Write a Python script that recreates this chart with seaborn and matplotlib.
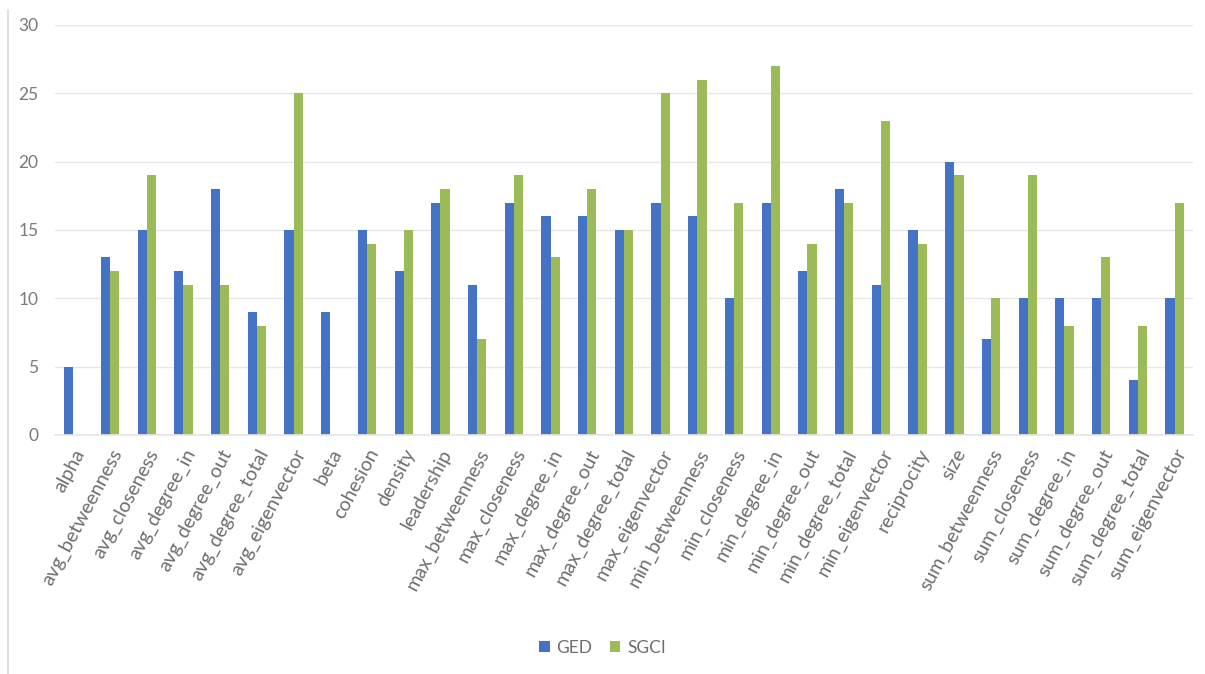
import matplotlib
matplotlib.use("Agg")
import matplotlib.pyplot as plt
import seaborn as sns
import pandas as pd
from matplotlib.lines import Line2D

categories = ["alpha", "avg_betweenness", "avg_closeness", "avg_degree_in", "avg_degree_out",
              "avg_degree_total", "avg_eigenvector", "beta", "cohesion", "density", "leadership",
              "max_betweenness", "max_closeness", "max_degree_in", "max_degree_out",
              "max_degree_total", "max_eigenvector", "min_betweenness", "min_closeness",
              "min_degree_in", "min_degree_out", "min_degree_total", "min_eigenvector",
              "reciprocity", "size", "sum_betweenness", "sum_closeness", "sum_degree_in",
              "sum_degree_out", "sum_degree_total", "sum_eigenvector"]
ged = [5, 13, 15, 12, 18, 9, 15, 9, 15, 12, 17, 11, 17, 16, 16, 15, 17, 16, 10, 17, 12, 18,
       11, 15, 20, 7, 10, 10, 10, 4, 10]
sgci = [0, 12, 19, 11, 11, 8, 25, 0, 14, 15, 18, 7, 19, 13, 18, 15, 25, 26, 17, 27, 14, 17,
        23, 14, 19, 10, 19, 8, 13, 8, 17]
series = ["GED", "SGCI"]
colors = ["#4472C4", "#9BBB59"]

df = pd.DataFrame({
    "category": categories * 2,
    "value": ged + sgci,
    "series": [series[0]] * len(categories) + [series[1]] * len(categories),
})

sns.set_theme(style="white")
plt.rcParams['font.family'] = ['Lato', 'DejaVu Sans']

fig = plt.figure(figsize=(12.05, 6.74), dpi=100)
ax = fig.add_axes([0.0456, 0.3546, 0.9444, 0.6084])

sns.barplot(data=df, x="category", y="value", hue="series", palette=colors,
            width=0.5, gap=0, ax=ax, legend=True, saturation=1, linewidth=0)

ax.set_ylim(0, 30)
ax.set_xlim(-0.5, len(categories) - 0.5)
ax.set_yticks(range(0, 31, 5))
ax.yaxis.grid(True, color="#E6E6E6", linewidth=1)
ax.set_axisbelow(True)
for s in ["top", "right", "left"]:
    ax.spines[s].set_visible(False)
ax.spines["bottom"].set_color("#E6E6E6")
ax.tick_params(axis="y", length=0, colors="#7A7A7A", labelsize=12.5, pad=12)
ax.tick_params(axis="x", length=0, colors="#6E6E6E", labelsize=14, pad=8)
ax.set_xlabel("")
ax.set_ylabel("")
plt.setp(ax.get_xticklabels(), rotation=62, ha="right", rotation_mode="anchor")

handles, labels = ax.get_legend_handles_labels()
ax.legend(handles, labels, loc="center", bbox_to_anchor=(0.5, 0.039),
          bbox_transform=fig.transFigure, ncol=2, frameon=False, fontsize=12.5,
          handlelength=0.6, handleheight=0.6, handletextpad=0.4, columnspacing=1.0,
          labelcolor="#6E6E6E")

fig.add_artist(Line2D([8 / 1205, 8 / 1205], [0, 0.985], transform=fig.transFigure,
                      color="#D9D9D9", linewidth=1.2))

fig.savefig("out.png", dpi=100, facecolor="white")
